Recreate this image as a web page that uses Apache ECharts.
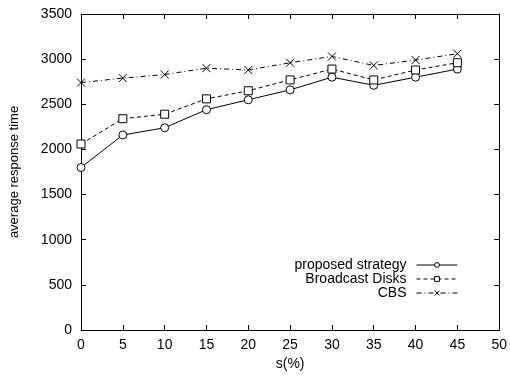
<!DOCTYPE html>
<html>
<head>
<meta charset="utf-8">
<script src="https://cdn.jsdelivr.net/npm/echarts@6/dist/echarts.min.js"></script>
<style>
  html, body { margin: 0; padding: 0; background: #fff; }
  #main { width: 510px; height: 376px; }
</style>
</head>
<body>
<div id="main"></div>
<script>
// s(%) values on x axis
var sValues = [0, 5, 10, 15, 20, 25, 30, 35, 40, 45];
var proposed = [1800, 2160, 2240, 2440, 2550, 2660, 2800, 2710, 2800, 2890];
var broadcast = [2060, 2340, 2390, 2560, 2650, 2770, 2890, 2770, 2880, 2960];
var cbs = [2740, 2790, 2830, 2900, 2880, 2960, 3030, 2930, 2990, 3060];
var seriesNames = ['proposed strategy', 'Broadcast Disks', 'CBS'];

var FONT = 'Liberation Sans';
// marker shapes drawn as outlines only
var circlePath = 'path://M0,5A5,5,0,1,1,10,5A5,5,0,1,1,0,5Z';
var squarePath = 'path://M0,0L10,0L10,10L0,10Z';
var crossPath = 'path://M0,0L10,10M10,0L0,10';

function pairs(ys) {
  return ys.map(function (y, i) { return [sValues[i], y]; });
}

var chart = echarts.init(document.getElementById('main'), null, { renderer: 'canvas' });

var axisCommon = {
  axisLine: { show: true, onZero: false, lineStyle: { color: '#000', width: 1 } },
  axisTick: { show: true, inside: true, length: 5, lineStyle: { color: '#000' } },
  splitLine: { show: false }
};

var markStyle = { color: '#fff', borderColor: '#000', borderWidth: 1 };

var option = {
  animation: false,
  backgroundColor: '#fff',
  textStyle: { fontFamily: FONT },
  grid: { left: 73, right: 7, top: 14, bottom: 44 },
  legend: {
    data: seriesNames,
    orient: 'vertical',
    align: 'right',
    right: 47,
    top: 253,
    itemWidth: 41,
    itemHeight: 6,
    itemGap: 0,
    itemStyle: { color: '#fff', borderColor: '#000', borderWidth: 1 },
    lineStyle: { width: 1, color: '#000' },
    textStyle: { fontFamily: FONT, fontSize: 14, color: '#000', lineHeight: 14, padding: [0, 5, 0, 0] }
  },
  xAxis: [
    Object.assign({
      type: 'value', min: 0, max: 50, interval: 5,
      name: 's(%)', nameLocation: 'middle', nameGap: 27,
      nameTextStyle: { fontFamily: FONT, fontSize: 14, color: '#000' },
      axisLabel: { color: '#000', fontSize: 14, fontFamily: FONT, margin: 8 }
    }, axisCommon),
    Object.assign({
      type: 'value', min: 0, max: 50, interval: 5, position: 'top',
      axisLabel: { show: false }
    }, axisCommon)
  ],
  yAxis: [
    Object.assign({
      type: 'value', min: 0, max: 3500, interval: 500,
      name: 'average response time', nameLocation: 'middle', nameGap: 60,
      nameTextStyle: { fontFamily: FONT, fontSize: 13, color: '#000' },
      axisLabel: { color: '#000', fontSize: 14, fontFamily: FONT, margin: 9,
        formatter: function (v) { return String(v); } }
    }, axisCommon),
    Object.assign({
      type: 'value', min: 0, max: 3500, interval: 500, position: 'right',
      axisLabel: { show: false }
    }, axisCommon)
  ],
  series: [
    {
      name: seriesNames[0], type: 'line', data: pairs(proposed),
      symbol: circlePath, symbolSize: 8,
      lineStyle: { color: '#000', width: 1, type: 'solid' },
      itemStyle: markStyle
    },
    {
      name: seriesNames[1], type: 'line', data: pairs(broadcast),
      symbol: squarePath, symbolSize: 8,
      lineStyle: { color: '#000', width: 1, type: [4, 3] },
      itemStyle: markStyle
    },
    {
      name: seriesNames[2], type: 'line', data: pairs(cbs),
      symbol: crossPath, symbolSize: 8,
      lineStyle: { color: '#000', width: 1, type: [5, 3, 1, 3] },
      itemStyle: markStyle
    }
  ]
};

chart.setOption(option);
</script>
</body>
</html>
